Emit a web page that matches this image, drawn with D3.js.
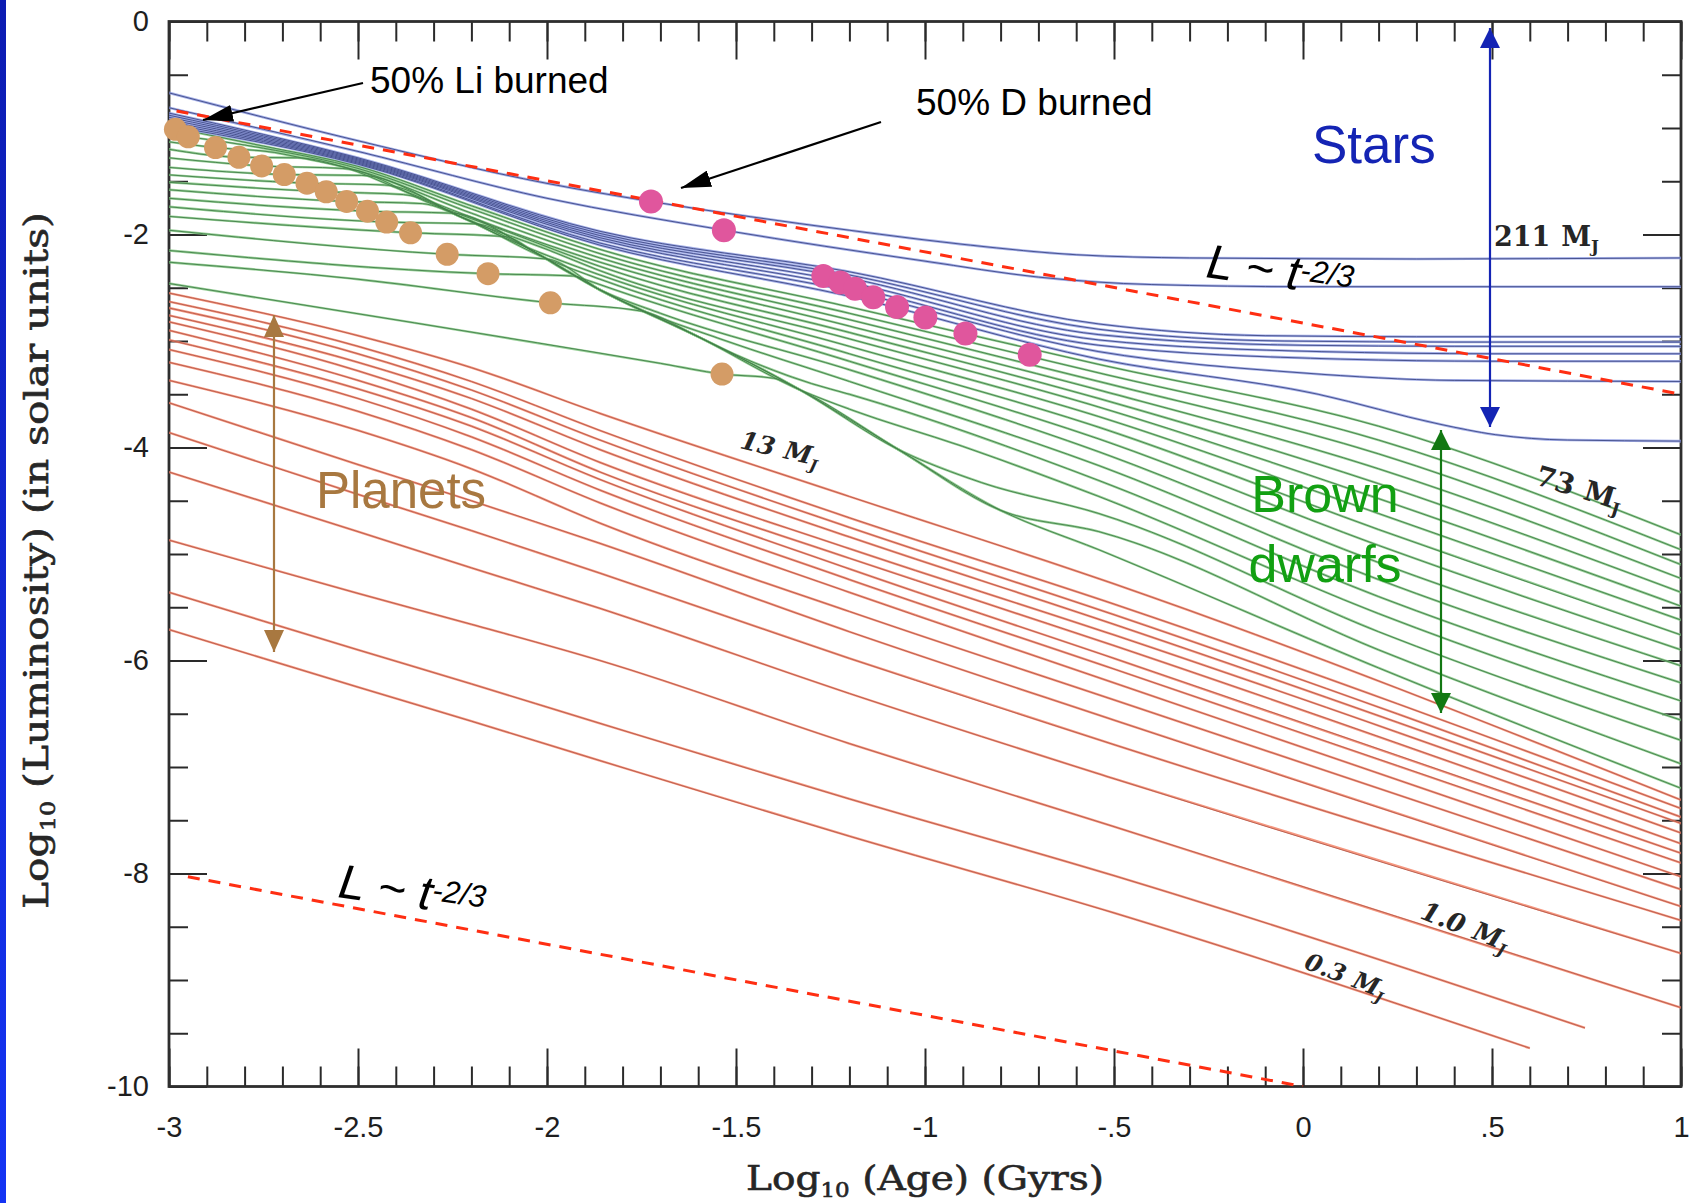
<!DOCTYPE html>
<html>
<head>
<meta charset="utf-8">
<script src="https://cdn.jsdelivr.net/npm/d3@7"></script>
<style>
  html, body { margin: 0; padding: 0; background: #ffffff; }
  svg { display: block; }
</style>
</head>
<body>
<svg id="chart" width="1690" height="1203"></svg>
<script>
// ---- axis ticks -------------------------------------------------------
const xMajorTicks = [-3, -2.5, -2, -1.5, -1, -0.5, 0, 0.5, 1];
const xTickLabels = ["-3", "-2.5", "-2", "-1.5", "-1", "-.5", "0", ".5", "1"];
const yMajorTicks = [0, -2, -4, -6, -8, -10];
const yTickLabels = ["0", "-2", "-4", "-6", "-8", "-10"];

// ---- evolutionary tracks: [log10 age (Gyr), log10 L (Lsun)] ----------
// stars (blue)
const starTracks = [
  [[-3,-0.67],[-2.5,-1.12],[-2,-1.52],[-1.725,-1.69],[-1.2,-1.96],[-0.88,-2.10],[-0.6,-2.19],[-0.3,-2.22],[0.3,-2.23],[1,-2.22]],
  [[-3,-0.81],[-2.5,-1.22],[-2,-1.66],[-1.53,-1.96],[-1.0,-2.25],[-0.7,-2.40],[-0.4,-2.47],[0,-2.49],[1,-2.49]],
  [[-3,-0.86],[-2.5,-1.28],[-1.86,-1.97],[-1.2,-2.35],[-0.54,-2.84],[-0.1,-2.95],[0.3,-2.96],[1,-2.96]],
  [[-3,-0.88],[-2.5,-1.29],[-1.86,-1.99],[-1.2,-2.38],[-0.54,-2.89],[-0.05,-3.00],[0.4,-3.01],[1,-3.01]],
  [[-3,-0.90],[-2.5,-1.30],[-1.86,-2.01],[-1.2,-2.41],[-0.54,-2.94],[0.0,-3.04],[0.4,-3.05],[1,-3.05]],
  [[-3,-0.92],[-2.5,-1.31],[-1.86,-2.03],[-1.2,-2.45],[-0.54,-2.99],[0.05,-3.10],[0.5,-3.12],[1,-3.12]],
  [[-3,-0.94],[-2.5,-1.32],[-1.86,-2.05],[-1.2,-2.49],[-0.54,-3.04],[0.1,-3.17],[0.5,-3.19],[1,-3.19]],
  [[-3,-0.96],[-2.5,-1.33],[-1.86,-2.08],[-1.2,-2.53],[-0.54,-3.10],[0.0,-3.30],[0.4,-3.37],[1,-3.38]],
  [[-3,-0.98],[-2.5,-1.34],[-1.86,-2.10],[-1.2,-2.58],[-0.54,-3.17],[0.04,-3.50],[0.36,-3.78],[0.51,-3.88],[0.7,-3.93],[1,-3.94]]
];

// brown dwarfs (green)
const dwarfTracks = [
  [[-3,-0.99],[-2.75,-1.17],[-2.5,-1.36],[-2.2,-1.73],[-1.86,-2.14],[-1.2,-2.68],[-0.54,-3.22],[0.2,-3.80],[1,-4.82]],
  [[-3,-1.06],[-2.949,-1.083],[-2.75,-1.19],[-2.5,-1.38],[-2.2,-1.76],[-1.86,-2.18],[-1.2,-2.74],[-0.54,-3.30],[0.2,-3.93],[1,-4.96]],
  [[-3,-1.13],[-2.877,-1.184],[-2.72,-1.23],[-2.65,-1.28],[-2.5,-1.40],[-2.2,-1.80],[-1.86,-2.22],[-1.2,-2.80],[-0.54,-3.38],[0.2,-4.06],[1,-5.10]],
  [[-3,-1.20],[-2.815,-1.275],[-2.66,-1.28],[-2.535,-1.37],[-2.4,-1.56],[-2.2,-1.84],[-1.86,-2.26],[-1.2,-2.86],[-0.54,-3.46],[0.2,-4.20],[1,-5.23]],
  [[-3,-1.28],[-2.755,-1.356],[-2.54,-1.38],[-2.3,-1.72],[-2.1,-1.98],[-1.86,-2.30],[-1.2,-2.92],[-0.54,-3.54],[0.2,-4.34],[1,-5.36]],
  [[-3,-1.37],[-2.695,-1.437],[-2.49,-1.445],[-2.2,-1.88],[-2.0,-2.14],[-1.86,-2.34],[-1.2,-2.98],[-0.54,-3.62],[0.2,-4.48],[1,-5.49]],
  [[-3,-1.44],[-2.635,-1.518],[-2.43,-1.535],[-2.23,-1.83],[-2.1,-2.05],[-1.86,-2.38],[-1.2,-3.05],[-0.54,-3.71],[0.2,-4.62],[1,-5.62]],
  [[-3,-1.51],[-2.584,-1.599],[-2.38,-1.625],[-2.23,-1.83],[-2.0,-2.23],[-1.86,-2.42],[-1.2,-3.12],[-0.54,-3.81],[0.2,-4.77],[1,-5.76]],
  [[-3,-1.58],[-2.53,-1.69],[-2.33,-1.71],[-2.23,-1.83],[-2.03,-2.17],[-1.93,-2.38],[-1.86,-2.47],[-1.2,-3.19],[-0.54,-3.92],[0.2,-4.92],[1,-5.90]],
  [[-3,-1.66],[-2.475,-1.781],[-2.25,-1.80],[-2.03,-2.17],[-1.86,-2.52],[-1.7,-2.74],[-1.2,-3.27],[-0.54,-4.04],[0.2,-5.08],[1,-6.05]],
  [[-3,-1.74],[-2.424,-1.883],[-2.19,-1.90],[-2.03,-2.17],[-1.86,-2.52],[-1.75,-2.71],[-1.55,-2.97],[-1.2,-3.38],[-0.54,-4.17],[0.2,-5.24],[1,-6.21]],
  [[-3,-1.83],[-2.361,-1.984],[-2.11,-2.02],[-2.03,-2.17],[-1.86,-2.52],[-1.6,-2.96],[-1.5,-3.13],[-1.3,-3.40],[-1.2,-3.50],[-0.54,-4.31],[0.2,-5.40],[1,-6.38]],
  [[-3,-1.96],[-2.264,-2.186],[-2.0,-2.23],[-1.86,-2.52],[-1.6,-2.96],[-1.33,-3.46],[-1.2,-3.64],[-0.9,-3.99],[-0.54,-4.46],[0.2,-5.56],[1,-6.56]],
  [[-3,-2.15],[-2.156,-2.368],[-1.93,-2.39],[-1.86,-2.52],[-1.6,-2.96],[-1.33,-3.46],[-1.07,-4.02],[-0.85,-4.33],[-0.54,-4.62],[0.2,-5.73],[1,-6.75]],
  [[-3,-2.26],[-2.5,-2.42],[-1.991,-2.642],[-1.75,-2.72],[-1.6,-2.96],[-1.33,-3.46],[-1.07,-4.02],[-0.8,-4.59],[-0.54,-4.79],[0.2,-5.90],[1,-6.97]],
  [[-3,-2.46],[-2.35,-2.83],[-1.70,-3.21],[-1.537,-3.31],[-1.40,-3.35],[-1.33,-3.46],[-1.07,-4.02],[-0.80,-4.59],[-0.54,-4.96],[0.2,-6.07],[1,-7.20]]
];

// planets (red)
const planetTracks = [
  [[-3,-2.55],[-2.5,-2.95],[-2.2,-3.25],[-1.86,-3.68],[-1.2,-4.46],[-0.5,-5.28],[1,-7.31]],
  [[-3,-2.63],[-2.5,-3.05],[-2.2,-3.38],[-1.86,-3.84],[-1.2,-4.66],[-0.5,-5.47],[1,-7.39]],
  [[-3,-2.69],[-2.5,-3.12],[-2.2,-3.46],[-1.86,-3.93],[-1.2,-4.75],[-0.5,-5.57],[1,-7.47]],
  [[-3,-2.76],[-2.5,-3.20],[-2.2,-3.54],[-1.86,-4.02],[-1.2,-4.84],[-0.5,-5.66],[1,-7.53]],
  [[-3,-2.82],[-2.5,-3.28],[-2.2,-3.64],[-1.86,-4.14],[-1.2,-4.95],[-0.5,-5.76],[1,-7.62]],
  [[-3,-2.90],[-2.5,-3.37],[-2.2,-3.72],[-1.86,-4.23],[-1.2,-5.04],[-0.5,-5.86],[1,-7.72]],
  [[-3,-2.99],[-2.5,-3.45],[-2.2,-3.80],[-1.86,-4.30],[-1.2,-5.14],[-0.5,-5.98],[1,-7.81]],
  [[-3,-3.08],[-2.5,-3.54],[-2.2,-3.90],[-1.86,-4.40],[-1.2,-5.24],[-0.5,-6.08],[1,-7.90]],
  [[-3,-3.20],[-2.5,-3.66],[-2.2,-4.02],[-1.86,-4.52],[-1.2,-5.36],[-0.5,-6.21],[1,-8.03]],
  [[-3,-3.37],[-2.5,-3.84],[-2.2,-4.20],[-1.86,-4.71],[-1.2,-5.54],[-0.5,-6.37],[1,-8.15]],
  [[-3,-3.58],[-2.5,-4.16],[-2.2,-4.50],[-1.86,-4.90],[-1.2,-5.73],[-0.5,-6.56],[1,-8.31]],
  [[-3,-3.86],[-2.5,-4.44],[-2.2,-4.78],[-1.86,-5.18],[-1.2,-5.98],[-0.5,-6.79],[1,-8.44]],
  [[-3,-4.23],[-2.5,-4.79],[-2.2,-5.13],[-1.86,-5.51],[-1.2,-6.31],[-0.5,-7.11],[1,-8.75]],
  [[-3,-4.87],[-2.5,-5.37],[-2.2,-5.66],[-1.86,-6.00],[-1.2,-6.78],[-0.5,-7.56],[1,-9.26]],
  [[-3,-5.36],[-2.5,-5.90],[-2.2,-6.22],[-1.86,-6.59],[-1.2,-7.30],[-0.5,-8.02],[0.746,-9.45]],
  [[-3,-5.71],[-2.5,-6.25],[-2.2,-6.57],[-1.86,-6.94],[-1.2,-7.65],[-0.5,-8.37],[0.60,-9.64]]
];

// gold markers along the dwarf tracks
const goldDots = [
  [-2.983,-1.012],[-2.949,-1.083],[-2.877,-1.184],[-2.815,-1.275],[-2.755,-1.356],[-2.695,-1.437],
  [-2.635,-1.518],[-2.584,-1.599],[-2.530,-1.690],[-2.475,-1.781],[-2.424,-1.883],[-2.361,-1.984],
  [-2.264,-2.186],[-2.156,-2.368],[-1.991,-2.642],[-1.537,-3.310]
];
// magenta markers on the upper tracks
const magentaDots = [
  [-1.725,-1.69],[-1.532,-1.96],[-1.269,-2.39],[-1.224,-2.45],[-1.185,-2.51],[-1.137,-2.59],
  [-1.074,-2.68],[-0.999,-2.78],[-0.893,-2.93],[-0.723,-3.13]
];

// L ~ t^(-2/3) reference lines
const powerLawUpper = [[-2.98,-0.84],[1,-3.50]];
const powerLawLower = [[-2.95,-8.03],[0,-10.0]];

// ---- layout ----------------------------------------------------------
const svg = d3.select("#chart");
const X0 = 169, X1 = 1681, Y0 = 21.5, Y1 = 1086.5;
const x = d3.scaleLinear().domain([-3, 1]).range([X0, X1]);
const y = d3.scaleLinear().domain([0, -10]).range([Y0, Y1]);

const defs = svg.append("defs");
const grad = defs.append("linearGradient").attr("id", "barGrad")
  .attr("x1", 0).attr("y1", 0).attr("x2", 0).attr("y2", 1);
grad.append("stop").attr("offset", "0%").attr("stop-color", "#0c1cb2");
grad.append("stop").attr("offset", "100%").attr("stop-color", "#1434f4");

defs.append("clipPath").attr("id", "plotClip")
  .append("rect").attr("x", X0).attr("y", Y0).attr("width", X1 - X0).attr("height", Y1 - Y0);

function addMarker(id, color, len, wid) {
  defs.append("marker")
    .attr("id", id)
    .attr("viewBox", `0 0 ${len} ${wid}`)
    .attr("refX", len).attr("refY", wid / 2)
    .attr("markerWidth", len).attr("markerHeight", wid)
    .attr("markerUnits", "userSpaceOnUse")
    .attr("orient", "auto-start-reverse")
    .append("path")
    .attr("d", `M0,0L${len},${wid / 2}L0,${wid}Z`)
    .attr("fill", color);
}
addMarker("headBlack", "#000000", 30, 17);
addMarker("headBlue", "#1424b4", 20, 20);
addMarker("headGreen", "#127812", 20, 20);
addMarker("headTan", "#a87840", 22, 20);

// slide edge strip
svg.append("rect").attr("x", 0).attr("y", 0).attr("width", 6).attr("height", 1203)
  .attr("fill", "url(#barGrad)");

// ---- axes ------------------------------------------------------------
const minorX = d3.range(-30, 11, 1).map(v => v / 10);
const minorY = d3.range(0, -21, -1).map(v => v / 2);
const tickFont = "'Liberation Sans', Arial, Helvetica, sans-serif";

function styleAxis(g) {
  g.select(".domain").remove();
  g.attr("font-family", tickFont).attr("font-size", 29);
  g.selectAll(".tick line").attr("stroke", "#2a2a2a").attr("stroke-width", 2);
  g.selectAll(".tick text").attr("fill", "#1e1e1e");
}

svg.append("g").attr("transform", `translate(0,${Y1})`)
  .call(d3.axisBottom(x).tickValues(minorX).tickSize(-20).tickSizeOuter(0).tickFormat(""))
  .call(styleAxis);
svg.append("g").attr("transform", `translate(0,${Y1})`)
  .call(d3.axisBottom(x).tickValues(xMajorTicks).tickSize(-38).tickSizeOuter(0).tickPadding(30)
    .tickFormat((d, i) => xTickLabels[i]))
  .call(styleAxis);
svg.append("g").attr("transform", `translate(0,${Y0})`)
  .call(d3.axisTop(x).tickValues(minorX).tickSize(-20).tickSizeOuter(0).tickFormat(""))
  .call(styleAxis);
svg.append("g").attr("transform", `translate(0,${Y0})`)
  .call(d3.axisTop(x).tickValues(xMajorTicks).tickSize(-38).tickSizeOuter(0).tickFormat(""))
  .call(styleAxis);

svg.append("g").attr("transform", `translate(${X0},0)`)
  .call(d3.axisLeft(y).tickValues(minorY).tickSize(-19).tickSizeOuter(0).tickFormat(""))
  .call(styleAxis);
svg.append("g").attr("transform", `translate(${X0},0)`)
  .call(d3.axisLeft(y).tickValues(yMajorTicks).tickSize(-38).tickSizeOuter(0).tickPadding(20)
    .tickFormat((d, i) => yTickLabels[i]))
  .call(styleAxis);
svg.append("g").attr("transform", `translate(${X1},0)`)
  .call(d3.axisRight(y).tickValues(minorY).tickSize(-19).tickSizeOuter(0).tickFormat(""))
  .call(styleAxis);
svg.append("g").attr("transform", `translate(${X1},0)`)
  .call(d3.axisRight(y).tickValues(yMajorTicks).tickSize(-38).tickSizeOuter(0).tickFormat(""))
  .call(styleAxis);

svg.append("rect").attr("x", X0).attr("y", Y0).attr("width", X1 - X0).attr("height", Y1 - Y0)
  .attr("fill", "none").attr("stroke", "#2e2e2e").attr("stroke-width", 2.8);

// ---- tracks ----------------------------------------------------------
const line = d3.line().x(d => x(d[0])).y(d => y(d[1])).curve(d3.curveMonotoneX);
const plot = svg.append("g").attr("clip-path", "url(#plotClip)");

function drawFamily(tracks, halo, core, haloWidth, cls) {
  const g = plot.append("g").attr("class", cls).attr("fill", "none");
  g.selectAll("path.halo").data(tracks).join("path").attr("class", "halo")
    .attr("d", line).attr("stroke", halo).attr("stroke-width", haloWidth).attr("stroke-opacity", 0.85);
  g.selectAll("path.core").data(tracks).join("path").attr("class", "core")
    .attr("d", line).attr("stroke", core).attr("stroke-width", 0.9);
}
drawFamily(planetTracks, "#f4866a", "#b65a4c", 2.3, "planets");
drawFamily(dwarfTracks, "#86c886", "#43804a", 2.4, "dwarfs");
drawFamily(starTracks, "#95a2e4", "#3e4886", 2.6, "stars");

// power-law guides
const dashLine = d3.line().x(d => x(d[0])).y(d => y(d[1]));
plot.selectAll("path.powerlaw").data([powerLawUpper, powerLawLower]).join("path")
  .attr("class", "powerlaw").attr("d", dashLine)
  .attr("fill", "none").attr("stroke", "#ff2e12").attr("stroke-width", 3)
  .attr("stroke-dasharray", "12 9");

// markers
svg.append("g").selectAll("circle").data(goldDots).join("circle")
  .attr("cx", d => x(d[0])).attr("cy", d => y(d[1])).attr("r", 11.5)
  .attr("fill", "#d49c66");
svg.append("g").selectAll("circle").data(magentaDots).join("circle")
  .attr("cx", d => x(d[0])).attr("cy", d => y(d[1])).attr("r", 12)
  .attr("fill", "#e0569d");

// ---- annotations -----------------------------------------------------
const sans = "'Liberation Sans', Arial, Helvetica, sans-serif";
const serif = "'DejaVu Serif', 'Liberation Serif', serif";

function arrow(x1, y1, x2, y2, color, marker, both) {
  const l = svg.append("line").attr("x1", x1).attr("y1", y1).attr("x2", x2).attr("y2", y2)
    .attr("stroke", color).attr("stroke-width", 2.2)
    .attr("marker-end", `url(#${marker})`);
  if (both) l.attr("marker-start", `url(#${marker})`);
}

// burning annotations
svg.append("text").attr("x", 370).attr("y", 93).attr("font-family", sans).attr("font-size", 37)
  .attr("fill", "#000").text("50% Li burned");
arrow(363, 83, 203, 120, "#000", "headBlack", false);
svg.append("text").attr("x", 916).attr("y", 115).attr("font-family", sans).attr("font-size", 37)
  .attr("fill", "#000").text("50% D burned");
arrow(881, 122, 681, 188, "#000", "headBlack", false);

// class labels with range arrows
svg.append("text").attr("x", 1312).attr("y", 163).attr("font-family", sans).attr("font-size", 53)
  .attr("fill", "#1424b4").text("Stars");
arrow(1490, 28, 1490, 427, "#1424b4", "headBlue", true);

const bd = svg.append("text").attr("font-family", sans).attr("font-size", 52)
  .attr("fill", "#12a012").attr("text-anchor", "middle");
bd.append("tspan").attr("x", 1325).attr("y", 512).text("Brown");
bd.append("tspan").attr("x", 1325).attr("y", 582).text("dwarfs");
arrow(1441, 430, 1441, 713, "#127812", "headGreen", true);

svg.append("text").attr("x", 316).attr("y", 508).attr("font-family", sans).attr("font-size", 51)
  .attr("fill", "#a87840").text("Planets");
arrow(274, 315, 274, 652, "#a87840", "headTan", true);

// power-law labels
function powerLabel(px, py) {
  const t = svg.append("text").attr("transform", `translate(${px},${py}) rotate(8)`)
    .attr("font-family", sans).attr("font-style", "italic").attr("font-size", 48).attr("fill", "#000");
  t.append("tspan").text("L ~ t");
  t.append("tspan").attr("font-size", 31).attr("dy", -10).text("-2/3");
}
powerLabel(1205, 277);
powerLabel(337, 897);

// mass labels
function massLabel(px, py, angle, num, italic, size) {
  const t = svg.append("text").attr("transform", `translate(${px},${py}) rotate(${angle})`)
    .attr("font-family", serif).attr("font-weight", "bold").attr("font-size", size)
    .attr("fill", "#262626");
  if (italic) t.attr("font-style", "italic");
  t.append("tspan").text(num);
  t.append("tspan").attr("dx", size * 0.4).text("M");
  t.append("tspan").attr("font-size", size * 0.62).attr("dy", size * 0.22).text("J");
}
massLabel(1494, 246, 0, "211", false, 27);
massLabel(1534, 484, 17, "73", false, 28);
massLabel(739, 448, 13, "13", true, 25);
massLabel(1419, 918, 21, "1.0", true, 26);
massLabel(1303, 968, 21, "0.3", true, 24);

// ---- axis titles -----------------------------------------------------
const xt = svg.append("text").attr("x", 746).attr("y", 1190)
  .attr("font-family", serif).attr("font-size", 34).attr("fill", "#262626")
  .attr("stroke", "#262626").attr("stroke-width", 0.6)
  .attr("textLength", 358).attr("lengthAdjust", "spacingAndGlyphs");
xt.append("tspan").text("Log");
xt.append("tspan").attr("font-size", 20).attr("dy", 7).text("10");
xt.append("tspan").attr("dy", -7).text(" (Age)  (Gyrs)");

const yt = svg.append("text").attr("transform", "translate(48,909) rotate(-90)")
  .attr("font-family", serif).attr("font-size", 34).attr("fill", "#262626")
  .attr("stroke", "#262626").attr("stroke-width", 0.6)
  .attr("textLength", 697).attr("lengthAdjust", "spacingAndGlyphs");
yt.append("tspan").text("Log");
yt.append("tspan").attr("font-size", 20).attr("dy", 7).text("10");
yt.append("tspan").attr("dy", -7).text(" (Luminosity)  (in  solar  units)");
</script>
</body>
</html>
